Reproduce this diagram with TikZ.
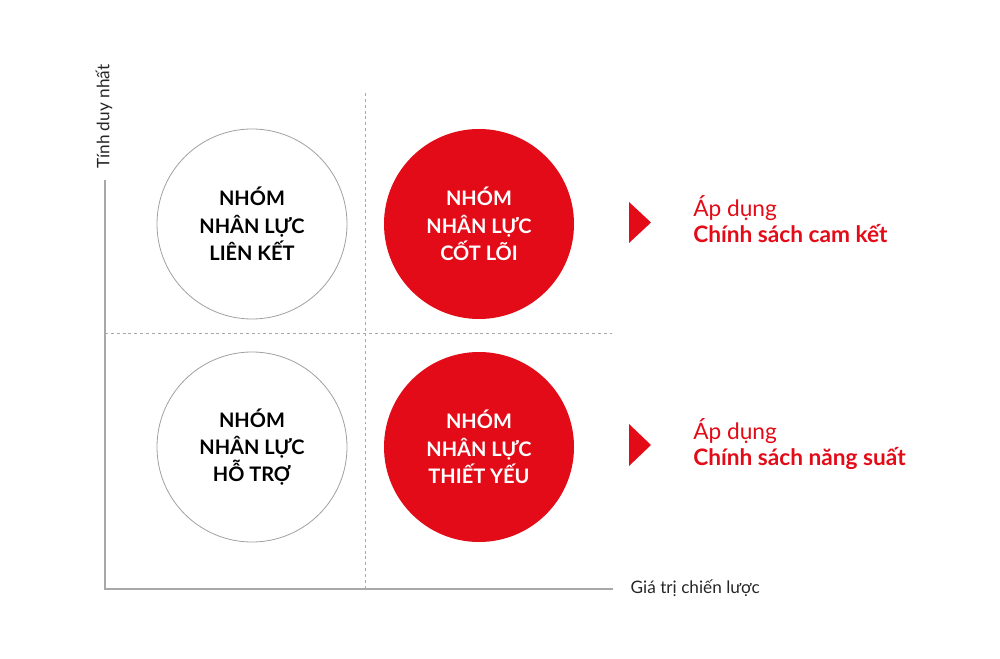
\documentclass[tikz,border=0pt]{standalone}
\usepackage{fontspec}
\setmainfont{Lato}
\definecolor{corered}{HTML}{E20B17}
\definecolor{axisgray}{HTML}{A8A8A8}
\definecolor{ringgray}{HTML}{A0A0A0}
\tikzset{
	group/.style={circle, minimum size=190*0.75pt, inner sep=0pt, align=center,
		font=\fontsize{15}{20.5}\selectfont\bfseries},
	plain group/.style={group, draw=ringgray, line width=0.6pt, text=black},
	core group/.style={group, fill=corered, text=white},
	axislabel/.style={font=\fontsize{12.9}{15}\selectfont, text=black!85},
	policy/.style={font=\fontsize{17}{20}\selectfont, text=corered, anchor=base west, inner sep=0pt},
	quarter/.style={axisgray, dashed, dash pattern=on 2.2pt off 2.2pt, line width=0.6pt}
}
\begin{document}
\begin{tikzpicture}[x=0.75pt, y=-0.75pt]
		\useasboundingbox (0,0) rectangle (1000,659);
		
		% axes
		\coordinate (origin) at (105,589);
		\coordinate (ytop) at (105,180);
		\coordinate (xend) at (613,589);
		\draw [axisgray, line width=1.1pt] (ytop) -- (origin) -- (xend);
		\node [axislabel, rotate=90] (ylab) at (104,116.5) {Tính duy nhất};
		\node [axislabel, anchor=west] (xlab) at (626,588) {Giá trị chiến lược};
		
		% quadrant lines
		\coordinate (vtop) at (365,93);
		\coordinate (vbot) at (365,589);
		\coordinate (hleft) at (105,333);
		\coordinate (hright) at (614,333);
		\draw [quarter] (vtop) -- (vbot);
		\draw [quarter] (hleft) -- (hright);
		
		% groups
		\node [plain group] (linked) at (252,224) {NHÓM\\NHÂN LỰC\\LIÊN KẾT};
		\node [core group] (core) at (479,224) {NHÓM\\NHÂN LỰC\\CỐT LÕI};
		\node [plain group] (support) at (252,447) {NHÓM\\NHÂN LỰC\\HỖ TRỢ};
		\node [core group] (vital) at (479,447) {NHÓM\\NHÂN LỰC\\THIẾT YẾU};
		
		% policies
		\fill [corered] (629,202) -- (651,222.5) -- (629,243) -- cycle;
		\node [policy] (apply1) at (693,217) {Áp dụng};
		\node [policy, font=\fontsize{17}{20}\selectfont\bfseries] (commit) at (693,243) {Chính sách cam kết};
		
		\fill [corered] (629,424) -- (651,445) -- (629,466) -- cycle;
		\node [policy] (apply2) at (693,439) {Áp dụng};
		\node [policy, font=\fontsize{17}{20}\selectfont\bfseries] (perform) at (693,465) {Chính sách năng suất};
		
\end{tikzpicture}
\end{document}
